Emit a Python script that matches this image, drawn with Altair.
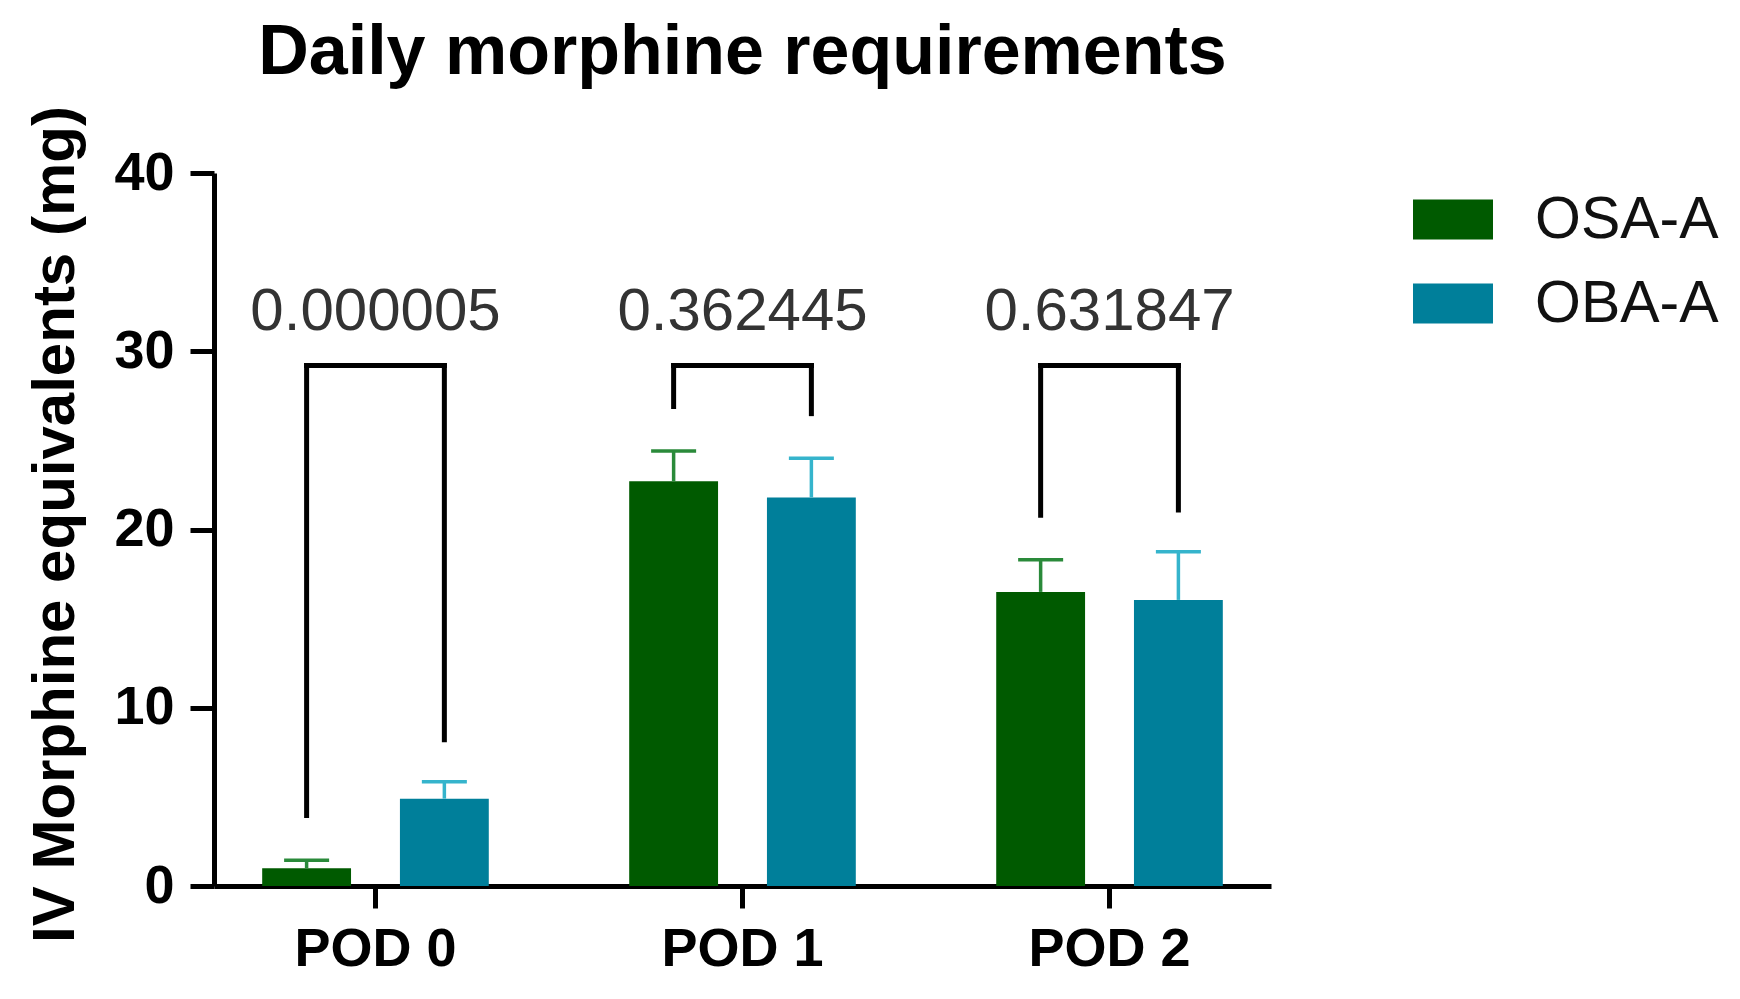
import altair as alt
import pandas as pd

# ---- data ----
pods = ["POD 0", "POD 1", "POD 2"]
groups = ["OSA-A", "OBA-A"]
osa_mean = [1.0, 22.7, 16.5]
osa_sem = [0.45, 1.7, 1.8]
oba_mean = [4.9, 21.8, 16.05]
oba_sem = [0.95, 2.2, 2.7]
p_values = ["0.000005", "0.362445", "0.631847"]
bracket_top = [29.2, 29.2, 29.2]
bracket_leg_osa = [3.95, 26.9, 20.8]
bracket_leg_oba = [8.2, 26.5, 21.1]
label_y = [31.2, 31.2, 31.2]

bar_colors = ["#005a00", "#007f9a"]
err_colors = ["#2a8a3a", "#35b4cc"]

rows = []
for i, p in enumerate(pods):
    rows.append({"pod": p, "group": "OSA-A", "mean": osa_mean[i],
                 "upper": osa_mean[i] + osa_sem[i],
                 "leg": bracket_leg_osa[i], "top": bracket_top[i]})
    rows.append({"pod": p, "group": "OBA-A", "mean": oba_mean[i],
                 "upper": oba_mean[i] + oba_sem[i],
                 "leg": bracket_leg_oba[i], "top": bracket_top[i]})
df = pd.DataFrame(rows)
dp = pd.DataFrame({"pod": pods, "p": p_values, "ly": label_y, "top": bracket_top})

W, H = 1057, 713
FONT = "Liberation Sans"

x_enc = alt.X("pod:N", sort=pods,
              scale=alt.Scale(paddingInner=0.3, paddingOuter=0.09),
              axis=alt.Axis(title=None, labelAngle=0, tickSize=22, labelPadding=14))
xo_enc = alt.XOffset("group:N", sort=groups,
                     scale=alt.Scale(domain=groups, paddingInner=0.355, paddingOuter=0.11))
y_scale = alt.Scale(domain=[0, 40], nice=False)
y_axis = alt.Axis(values=[0, 10, 20, 30, 40], tickSize=24, labelPadding=16,
                  title="IV Morphine equivalents (mg)", titleFontSize=60,
                  titleFont=FONT, titleFontWeight="bold", titleColor="black",
                  titleX=-159, titleY=351, titleAngle=-90, titleAlign="center",
                  titleBaseline="middle")

base = alt.Chart(df)

bars = base.mark_bar().encode(
    x=x_enc, xOffset=xo_enc,
    y=alt.Y("mean:Q", scale=y_scale, axis=y_axis),
    color=alt.Color("group:N", sort=groups,
                    scale=alt.Scale(domain=groups, range=bar_colors),
                    legend=alt.Legend(title=None)),
)

err_color = alt.Color("group:N", sort=groups,
                      scale=alt.Scale(domain=groups, range=err_colors), legend=None)
stems = base.mark_rule(strokeWidth=3.5).encode(
    x=x_enc, xOffset=xo_enc, y=alt.Y("mean:Q", scale=y_scale), y2="upper:Q",
    color=err_color)
caps = base.mark_tick(orient="horizontal", size=45, thickness=3.5, opacity=1).encode(
    x=x_enc, xOffset=xo_enc, y=alt.Y("upper:Q", scale=y_scale), color=err_color)
errors = alt.layer(stems, caps)

legs = base.mark_rule(strokeWidth=5, color="black", strokeCap="square").encode(
    x=x_enc, xOffset=xo_enc, y=alt.Y("leg:Q", scale=y_scale), y2="top:Q")
tops = alt.Chart(dp).mark_rule(strokeWidth=5, color="black", strokeCap="square",
                               xOffset=-68.9, x2Offset=68.9).encode(
    x=x_enc, x2="pod:N", y=alt.Y("top:Q", scale=y_scale))
ptext = alt.Chart(dp).mark_text(fontSize=60, font=FONT, color="#333333",
                                baseline="alphabetic").encode(
    x=x_enc, y=alt.Y("ly:Q", scale=y_scale), text="p:N")

chart = alt.layer(bars, errors, legs, tops, ptext).resolve_scale(
    color="independent"
).properties(
    width=W, height=H,
    autosize=alt.AutoSizeParams(type="none"),
    padding={"left": 206, "top": 165, "right": 455, "bottom": 97},
    title=alt.TitleParams("Daily morphine requirements", fontSize=70,
                          fontWeight="bold", font=FONT, color="black",
                          anchor="middle", frame="group", baseline="alphabetic",
                          offset=0, dy=38),
).configure_view(stroke=None).configure_axis(
    grid=False, domainColor="black", domainWidth=5, tickColor="black",
    tickWidth=5, labelFont=FONT, labelFontWeight="bold", labelFontSize=54,
    labelColor="black",
).configure_legend(
    orient="none", legendX=1199, legendY=6.5, padding=0,
    symbolType="M-1,-0.5H1V0.5H-1Z", symbolSize=6400, symbolStrokeWidth=0,
    labelFont=FONT, labelFontSize=59, labelColor="#111111", labelOffset=42,
    rowPadding=14, symbolOpacity=1, labelLimit=0,
)

chart.save("out.html", embed_options={"renderer": "svg", "actions": False})
